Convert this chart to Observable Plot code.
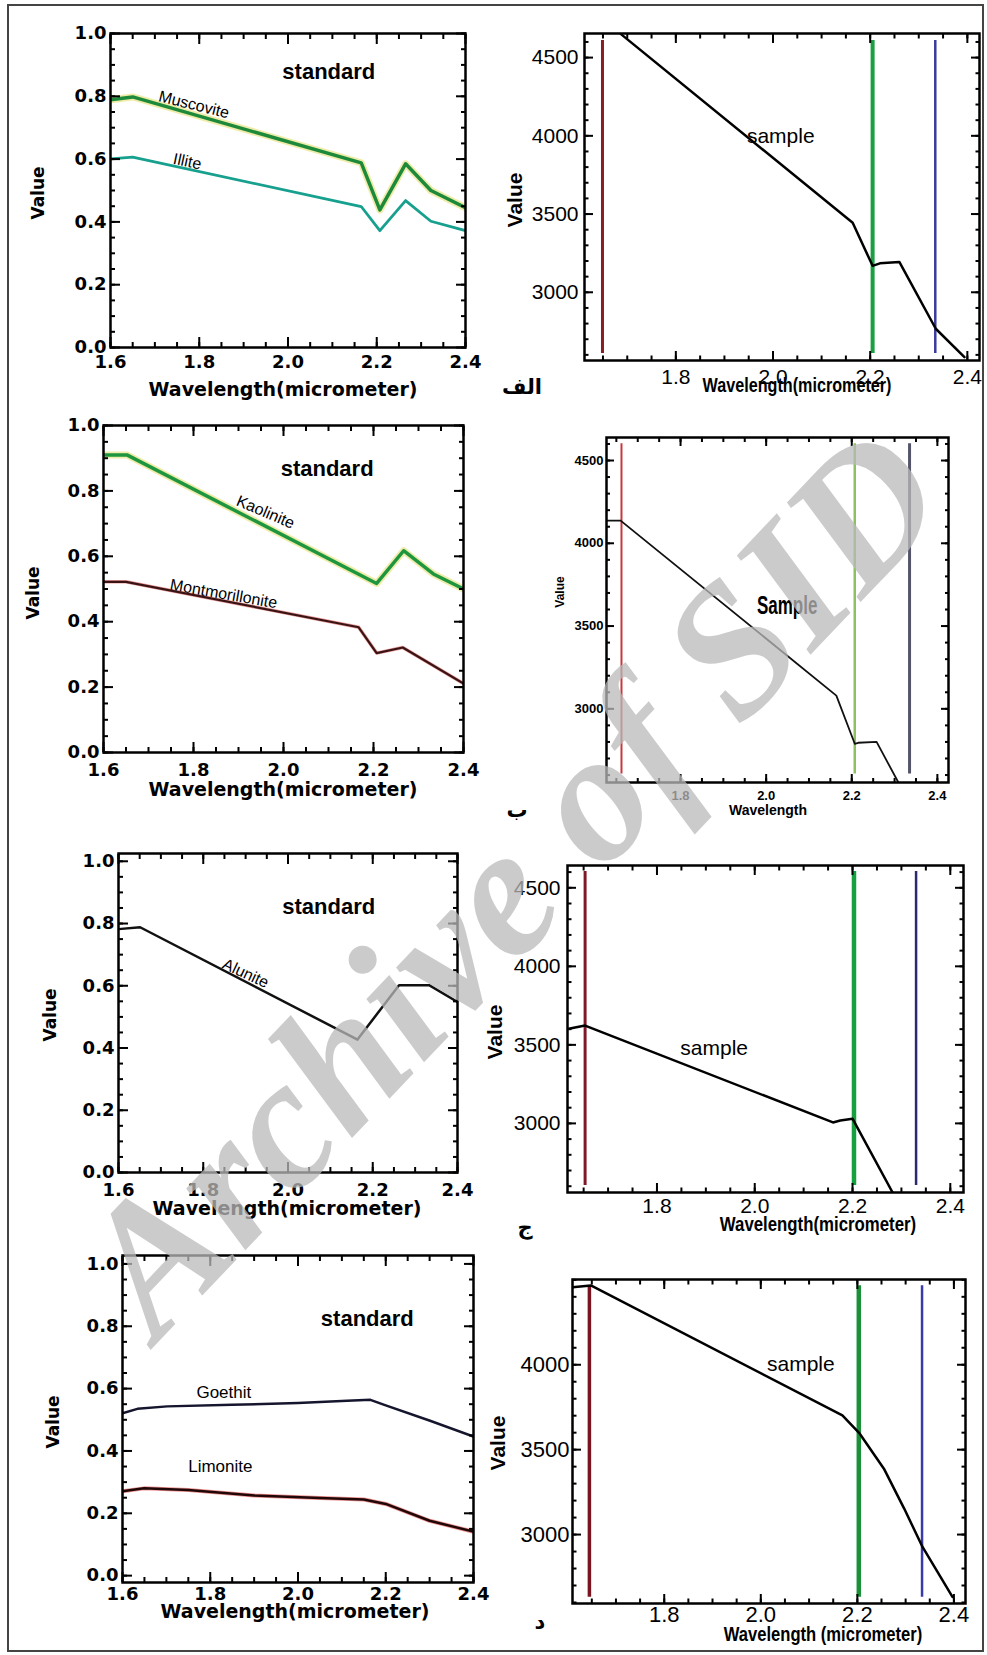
<!DOCTYPE html>
<html><head><meta charset="utf-8">
<script src="https://cdn.jsdelivr.net/npm/d3@7"></script>
<script src="https://cdn.jsdelivr.net/npm/@observablehq/plot@0.6"></script>
<style>
html,body{margin:0;padding:0;background:#fff;}
#fig{position:relative;width:987px;height:1655px;overflow:hidden;background:#fff;}
#fig svg{position:absolute;overflow:visible;}
.lbl{position:absolute;white-space:nowrap;line-height:1;color:#000;}
</style></head>
<body><div id="fig"></div>
<script>
// ================= DATA =================
// Standard spectra (reflectance, 0-1) vs wavelength (micrometer)
const wlMuscovite = [1.60, 1.65, 2.165, 2.207, 2.265, 2.322, 2.40];
const muscovite   = [0.789, 0.798, 0.588, 0.438, 0.585, 0.500, 0.445];
const wlIllite    = [1.60, 1.65, 2.165, 2.207, 2.265, 2.322, 2.40];
const illite      = [0.601, 0.606, 0.449, 0.372, 0.468, 0.402, 0.372];

const wlKaolinite = [1.60, 1.652, 2.207, 2.267, 2.333, 2.40];
const kaolinite   = [0.910, 0.910, 0.517, 0.617, 0.546, 0.500];
const wlMontmorillonite = [1.60, 1.65, 2.167, 2.207, 2.265, 2.40];
const montmorillonite   = [0.522, 0.522, 0.383, 0.304, 0.321, 0.211];

const wlAlunite = [1.60, 1.651, 2.164, 2.262, 2.333, 2.40];
const alunite   = [0.782, 0.788, 0.427, 0.602, 0.602, 0.548];

const wlGoethit = [1.60, 1.634, 1.702, 1.85, 2.00, 2.112, 2.165, 2.20, 2.301, 2.40];
const goethit   = [0.521, 0.535, 0.543, 0.548, 0.554, 0.561, 0.564, 0.546, 0.497, 0.446];
const wlLimonite = [1.60, 1.649, 1.75, 1.90, 2.05, 2.15, 2.20, 2.30, 2.40];
const limonite   = [0.271, 0.280, 0.275, 0.257, 0.249, 0.244, 0.230, 0.176, 0.141];

// Sample spectra (digital value) vs wavelength
const wlSampleAlef = [1.687, 2.164, 2.205, 2.22, 2.26, 2.335, 2.394];
const sampleAlef   = [4650, 3444, 3169, 3185, 3194, 2767, 2585];
const wlSampleBe   = [1.627, 1.66, 2.164, 2.207, 2.215, 2.258, 2.309];
const sampleBe     = [4137, 4137, 3080, 2789, 2795, 2800, 2555];
const wlSampleJim  = [1.617, 1.653, 2.16, 2.175, 2.20, 2.282];
const sampleJim    = [3601, 3623, 3006, 3018, 3030, 2560];
const wlSampleDal  = [1.61, 1.648, 2.169, 2.205, 2.255, 2.297, 2.335, 2.397];
const sampleDal    = [4457, 4467, 3702, 3594, 3388, 3153, 2927, 2633];

// Band marker wavelengths (red, green, blue) and their vertical extent
const bandsAlef = [1.649, 2.205, 2.334]; const bandSpanAlef = [2609, 4609];
const bandsBe   = [1.662, 2.207, 2.335]; const bandSpanBe   = [2607, 4601];
const bandsJim  = [1.653, 2.203, 2.330]; const bandSpanJim  = [2605, 4604];
const bandsDal  = [1.645, 2.203, 2.334]; const bandSpanDal  = [2631, 4465];

// Tick labels
const stdXTicks = [1.6, 1.8, 2.0, 2.2, 2.4];
const stdYTicks = [0.0, 0.2, 0.4, 0.6, 0.8, 1.0];
const smpXTicks = [1.8, 2.0, 2.2, 2.4];
const smpYTicks = [3000, 3500, 4000, 4500];
const smpYTicksDal = [3000, 3500, 4000];

// Curve labels [wavelength, value]
const lblMuscovite = [1.788, 0.773];
const lblIllite = [1.773, 0.592];
const lblKaolinite = [1.96, 0.735];
const lblMontmorillonite = [1.867, 0.485];
const lblAlunite = [1.90, 0.64];
const lblGoethit = [1.831, 0.588];
const lblLimonite = [1.823, 0.350];
const lblStd1 = [2.092, 0.879], lblStd2 = [2.097, 0.868], lblStd3 = [2.096, 0.853], lblStd4 = [2.158, 0.824];
const lblSampleAlef = [2.016, 4000], lblSampleBe = [2.049, 3624], lblSampleJim = [1.917, 3476], lblSampleDal = [2.083, 4000];

// ================= DRAWING =================
const fig = document.getElementById("fig");
const pts = (xs, ys) => xs.map((x, i) => ({x, y: ys[i]}));
const minorRange = (lo, hi, step, dom) => d3.range(Math.round(lo / step), Math.round(hi / step) + 1)
  .map(k => +(k * step).toFixed(4)).filter(v => v >= dom[0] && v <= dom[1]);

function addLabel(txt, x, y, font, rot = 0, extra = "", sx = 1) {
  const d = document.createElement("div");
  d.className = "lbl";
  d.textContent = txt;
  d.style.cssText += `left:${x}px;top:${y}px;font:${font};transform:translate(-50%,-50%) rotate(${rot}deg) scaleX(${sx});${extra}`;
  fig.appendChild(d);
}

function condense(svg, ariaLabel, sx) {
  svg.querySelectorAll(`g[aria-label="${ariaLabel}"] text`).forEach(t => {
    const tr = t.getAttribute("transform") || "";
    t.setAttribute("transform", `${tr} scale(${sx},1)`);
  });
}

function panel(o) {
  const [x0, x1, y0, y1] = o.frame;
  const mL = 120, mR = 40, mT = 30, mB = 70;
  const marks = [];
  (o.rules || []).forEach(r => marks.push(Plot.ruleX([r.x], {y1: r.y1, y2: r.y2, stroke: r.stroke, strokeWidth: r.w})));
  (o.lines || []).forEach(l => {
    if (l.halo) marks.push(Plot.line(l.data, {x: "x", y: "y", stroke: l.halo, strokeWidth: l.haloW, strokeOpacity: 0.55, clip: true}));
    marks.push(Plot.line(l.data, {x: "x", y: "y", stroke: l.stroke, strokeWidth: l.w, clip: true, strokeLinejoin: "round"}));
  });
  const tf = o.tickFont;
  const L = o.tickLen, lw = o.tickW;
  const xMinor = minorRange(1.6, 2.4, 0.05, o.xDomain);
  const yMinor = minorRange(o.yMinorRange[0], o.yMinorRange[1], o.yMinorStep, o.yDomain);
  const none = () => "";
  marks.push(
    Plot.axisX(xMinor, {anchor: "bottom", tickSize: -L / 2, tickFormat: none, strokeWidth: lw, label: null}),
    Plot.axisX(xMinor, {anchor: "top", tickSize: -L / 2, tickFormat: none, strokeWidth: lw, label: null}),
    Plot.axisY(yMinor, {anchor: "left", tickSize: -L / 2, tickFormat: none, strokeWidth: lw, label: null}),
    Plot.axisY(yMinor, {anchor: "right", tickSize: -L / 2, tickFormat: none, strokeWidth: lw, label: null}),
    Plot.axisX(o.xTicks, {anchor: "top", tickSize: -L, tickFormat: none, strokeWidth: lw, label: null}),
    Plot.axisY(o.yTicks, {anchor: "right", tickSize: -L, tickFormat: none, strokeWidth: lw, label: null}),
    Plot.axisX(o.xTicks, {anchor: "bottom", tickSize: -L, tickPadding: L + o.xGap, tickFormat: o.xFmt, strokeWidth: lw, label: null, ...tf}),
    Plot.axisY(o.yTicks, {anchor: "left", tickSize: -L, tickPadding: L + o.yGap, tickFormat: o.yFmt, strokeWidth: lw, label: null, ...tf}),
    Plot.frame({strokeWidth: o.frameW, stroke: "#000"})
  );
  (o.texts || []).forEach(t => marks.push(Plot.text([t.p], {x: d => d[0], y: d => d[1], text: () => t.text, rotate: t.rot || 0,
    fontSize: t.size, fontFamily: t.family, fontWeight: t.weight || "normal", fill: "#000"})));
  const svg = Plot.plot({
    width: x1 - x0 + mL + mR, height: y1 - y0 + mT + mB,
    marginLeft: mL, marginRight: mR, marginTop: mT, marginBottom: mB,
    x: {domain: o.xDomain, label: null}, y: {domain: o.yDomain, label: null},
    style: {background: "transparent", overflow: "visible", color: "#000"},
    marks
  });
  svg.style.left = (x0 - mL) + "px";
  svg.style.top = (y0 - mT) + "px";
  if (o.condenseText) condense(svg, "text", o.condenseText);
  fig.appendChild(svg);
}

const f1 = d3.format(".1f"), fd = d3.format("d");
const arial = "'Liberation Sans', Arial, sans-serif";
const stdFont = {fontFamily: "DejaVu Sans", fontSize: 18, fontWeight: "bold"};
const smpFont = {fontFamily: arial, fontSize: 21};
const stdText = (p) => ({p, text: "standard", size: 22, family: arial, weight: "bold"});
const curveText = (p, text, rot) => ({p, text, rot, size: 16, family: arial});

const stdCommon = {xDomain: [1.6, 2.4], xTicks: stdXTicks, yTicks: stdYTicks, xFmt: f1, yFmt: f1,
  tickFont: stdFont, tickLen: 10, tickW: 2, frameW: 2.5, yGap: 4, yMinorRange: [0, 1], yMinorStep: 0.05};

// --- Left column: standards ---
panel({...stdCommon, frame: [110, 465, 33, 347], yDomain: [0, 1], xGap: 8,
  lines: [
    {data: pts(wlMuscovite, muscovite), stroke: "#1c8a3a", w: 3.5, halo: "#e0dc60", haloW: 7},
    {data: pts(wlIllite, illite), stroke: "#17a08e", w: 2.8}
  ],
  texts: [stdText(lblStd1), curveText(lblMuscovite, "Muscovite", 14), curveText(lblIllite, "Illite", 12)]
});
panel({...stdCommon, frame: [103, 463, 425, 752], yDomain: [0, 1], xGap: 11,
  lines: [
    {data: pts(wlKaolinite, kaolinite), stroke: "#1e9640", w: 3.5, halo: "#e0dc60", haloW: 7},
    {data: pts(wlMontmorillonite, montmorillonite), stroke: "#3a1414", w: 2.2, halo: "#d84848", haloW: 3.5}
  ],
  texts: [stdText(lblStd2), curveText(lblKaolinite, "Kaolinite", 23), curveText(lblMontmorillonite, "Montmorillonite", 10)]
});
panel({...stdCommon, frame: [118, 457, 853, 1172], yDomain: [0, 1.025], xGap: 11,
  lines: [{data: pts(wlAlunite, alunite), stroke: "#111", w: 2.5}],
  texts: [stdText(lblStd3), curveText(lblAlunite, "Alunite", 25)]
});
panel({...stdCommon, frame: [122, 473, 1255, 1582], yDomain: [-0.022, 1.027], xGap: 5,
  lines: [
    {data: pts(wlGoethit, goethit), stroke: "#15152e", w: 2.5},
    {data: pts(wlLimonite, limonite), stroke: "#200808", w: 2.5, halo: "#e03030", haloW: 4}
  ],
  texts: [stdText(lblStd4),
    {p: lblGoethit, text: "Goethit", size: 17, family: arial},
    {p: lblLimonite, text: "Limonite", size: 17, family: arial}]
});

// --- Right column: samples ---
const smpCommon = {xTicks: smpXTicks, yTicks: smpYTicks, xFmt: f1, yFmt: fd, tickFont: smpFont,
  tickLen: 9, tickW: 2, frameW: 2.5, yMinorRange: [2500, 4700], yMinorStep: 100};
const rulesFor = (b, s, cols, ws) => b.map((x, i) => ({x, y1: s[0], y2: s[1], stroke: cols[i], w: ws[i]}));
const smpText = (p, size = 21) => ({p, text: "sample", size, family: arial});

panel({...smpCommon, frame: [584, 979, 33, 360], xDomain: [1.612, 2.425], yDomain: [2564, 4654], xGap: 9, yGap: 6,
  rules: rulesFor(bandsAlef, bandSpanAlef, ["#8a1c24", "#1aa040", "#3a3aa0"], [3, 4, 2.5]),
  lines: [{data: pts(wlSampleAlef, sampleAlef), stroke: "#000", w: 2.5}],
  texts: [smpText(lblSampleAlef)]
});
panel({...smpCommon, frame: [606, 948, 437, 782], xDomain: [1.627, 2.426], yDomain: [2555, 4639], xGap: 8, yGap: 3,
  tickFont: {fontFamily: arial, fontSize: 13, fontWeight: "bold"}, tickLen: 8,
  rules: rulesFor(bandsBe, bandSpanBe, ["#c8383c", "#8cc060", "#55556a"], [2, 2.5, 3]),
  lines: [{data: pts(wlSampleBe, sampleBe), stroke: "#111", w: 1.8}],
  texts: [{p: lblSampleBe, text: "Sample", size: 25, family: arial, weight: "bold"}],
  condenseText: 0.68
});
panel({...smpCommon, frame: [567, 963, 865, 1192], xDomain: [1.617, 2.427], yDomain: [2560, 4642], xGap: 6, yGap: 7,
  rules: rulesFor(bandsJim, bandSpanJim, ["#80182a", "#18a040", "#2a2a70"], [3, 4.5, 2.5]),
  lines: [{data: pts(wlSampleJim, sampleJim), stroke: "#000", w: 2.5}],
  texts: [smpText(lblSampleJim)]
});
panel({...smpCommon, frame: [572, 965, 1279, 1603], xDomain: [1.610, 2.424], yDomain: [2594, 4502], yTicks: smpYTicksDal, xGap: 3, yGap: 3,
  tickFont: {fontFamily: arial, fontSize: 22},
  rules: rulesFor(bandsDal, bandSpanDal, ["#7a1420", "#1a9038", "#3a3aa8"], [3.5, 4.5, 2.5]),
  lines: [{data: pts(wlSampleDal, sampleDal), stroke: "#000", w: 2.5}],
  texts: [smpText(lblSampleDal)]
});

// --- Axis titles ---
const stdTitle = "bold 19px 'DejaVu Sans', sans-serif";
const stdVal = "bold 17px 'DejaVu Sans', sans-serif";
const smpTitle = `bold 21px ${arial}`;
[[283, 389], [283, 789], [287, 1208], [295, 1611]].forEach(([x, y]) => addLabel("Wavelength(micrometer)", x, y, stdTitle));
[[38, 193], [33, 593], [50, 1015], [53, 1422]].forEach(([x, y]) => addLabel("Value", x, y, stdVal, -90));
addLabel("Wavelength(micrometer)", 797, 385, smpTitle, 0, "", 0.77);
addLabel("Wavelength(micrometer)", 818, 1224, smpTitle, 0, "", 0.8);
addLabel("Wavelength (micrometer)", 823, 1634, smpTitle, 0, "", 0.79);
[[515, 200], [495, 1032], [498, 1443]].forEach(([x, y]) => addLabel("Value", x, y, smpTitle, -90));
addLabel("Value", 560, 592, `bold 12px ${arial}`, -90);
addLabel("Wavelength", 768, 810, `bold 14px ${arial}`);

// --- Panel letters (Persian) ---
const arab = "bold 21px 'DejaVu Sans', 'Noto Sans', sans-serif";
addLabel("الف", 522, 387, arab);
addLabel("ب", 517, 810, arab);
addLabel("ج", 525, 1227, arab);
addLabel("د", 540, 1622, arab);

// --- Watermark ---
addLabel("Archive of SID", 510, 880, "italic bold 186px 'Liberation Serif', 'DejaVu Serif', serif", -46.5,
  "color:rgba(185,185,185,0.75);pointer-events:none;");

// --- Outer border ---
const border = document.createElement("div");
border.style.cssText = "position:absolute;left:7px;top:4px;width:977px;height:1648px;border:2px solid #444;box-sizing:border-box;pointer-events:none;";
fig.appendChild(border);
</script>
</body></html>
